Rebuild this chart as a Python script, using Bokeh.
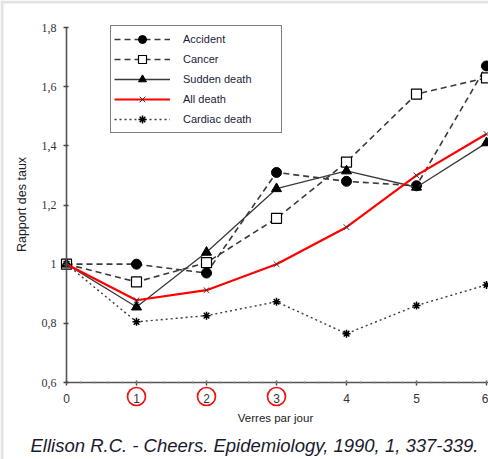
import math
from bokeh.plotting import figure
from bokeh.models import (Range1d, Legend, LegendItem, Label, BoxAnnotation,
                          FixedTicker)
from bokeh.embed import file_html
from bokeh.resources import INLINE

# ---- data ----
glasses = [0, 1, 2, 3, 4, 5, 6]
accident = [1.0, 1.0, 0.97, 1.31, 1.28, 1.265, 1.67]
cancer = [1.0, 0.94, 1.005, 1.155, 1.345, 1.575, 1.63]
sudden = [1.0, 0.855, 1.04, 1.255, 1.315, 1.26, 1.41]
all_death = [1.0, 0.878, 0.912, 1.0, 1.125, 1.30, 1.44]
cardiac = [1.0, 0.805, 0.826, 0.873, 0.765, 0.86, 0.93]
y_ticks = [0.6, 0.8, 1.0, 1.2, 1.4, 1.6, 1.8]
y_tick_labels = ["0,6", "0,8", "1", "1,2", "1,4", "1,6", "1,8"]
circled = [1, 2, 3]
series_names = ["Accident", "Cancer", "Sudden death", "All death", "Cardiac death"]
caption = "Ellison R.C. - Cheers. Epidemiology, 1990, 1, 337-339."
x_title = "Verres par jour"
y_title = "Rapport des taux"

# ---- geometry (pixels of the 488x459 canvas) ----
W, H = 488, 459
X0_PX, PX_PER_X = 66, 70.0          # x = 0 at pixel 66
Y06_PX, PX_PER_Y = 382, 355 / 1.2   # y = 0.6 at pixel 382

def dx(px):
    return (px - X0_PX) / PX_PER_X

def dy(py):
    return 0.6 + (Y06_PX - py) / PX_PER_Y

p = figure(width=W, height=H, output_backend="svg", toolbar_location=None,
           x_range=Range1d(dx(0), dx(W)), y_range=Range1d(dy(H), dy(0)),
           min_border=0, min_border_left=0, min_border_right=0,
           min_border_top=0, min_border_bottom=0)
p.outline_line_color = None
p.grid.visible = False
p.background_fill_color = "white"
p.border_fill_color = "white"

# light grey screenshot edge
p.add_layout(BoxAnnotation(right=dx(3), fill_color="#e3e3e3", fill_alpha=1,
                           line_color=None, level="underlay"))
p.add_layout(BoxAnnotation(bottom=dy(3), fill_color="#e3e3e3", fill_alpha=1,
                           line_color=None, level="underlay"))

# axes placed inside the frame
xa = p.xaxis[0]
ya = p.yaxis[0]
xa.fixed_location = 0.6
ya.fixed_location = 0
xa.bounds = (0, dx(W))
ya.bounds = (0.6, 1.8)
xa.ticker = FixedTicker(ticks=glasses, minor_ticks=[i / 5 for i in range(0, 31)])
ya.ticker = FixedTicker(ticks=y_ticks)
ya.major_label_overrides = {t: l for t, l in zip(y_ticks, y_tick_labels)}
for ax in (xa, ya):
    ax.axis_line_color = "#555555"
    ax.axis_line_width = 1.6
    ax.major_tick_line_color = "#444444"
    ax.major_tick_line_width = 1.4
    ax.major_tick_in = 2
    ax.major_tick_out = 3
    ax.major_label_text_font_size = "12px"
    ax.major_label_text_color = "#333333"
xa.major_label_text_font = "Liberation Sans"
ya.major_label_text_font = "Liberation Serif"
xa.minor_tick_in = 1
xa.minor_tick_out = 1
xa.minor_tick_line_color = "#888888"
ya.minor_tick_line_color = None
xa.major_label_standoff = 8
ya.major_label_standoff = 7

# series
dark = "#3a3a3a"
r1l = p.line(glasses, accident, line_color=dark, line_width=1.6, line_dash="6 4")
r1m = p.scatter(glasses, accident, marker="circle", size=10, fill_color="black",
                line_color="black")
r2l = p.line(glasses, cancer, line_color=dark, line_width=1.6, line_dash="6 4")
r2m = p.scatter(glasses, cancer, marker="square", size=10, fill_color="white",
                line_color="black", line_width=1.2)
r3l = p.line(glasses, sudden, line_color=dark, line_width=1.3)
r3m = p.scatter(glasses, sudden, marker="triangle", size=10, fill_color="black",
                line_color="black")
r5l = p.line(glasses, cardiac, line_color=dark, line_width=1.4, line_dash="2 3")
r5m = p.scatter(glasses, cardiac, marker="asterisk", size=8, line_color="black",
                line_width=1.5)
r4l = p.line(glasses, all_death, line_color="#ff0000", line_width=2.2)
r4m = p.scatter(glasses, all_death, marker="x", size=8, line_color="#333333",
                line_width=1)

legend = Legend(items=[
    LegendItem(label=series_names[0], renderers=[r1l, r1m]),
    LegendItem(label=series_names[1], renderers=[r2l, r2m]),
    LegendItem(label=series_names[2], renderers=[r3l, r3m]),
    LegendItem(label=series_names[3], renderers=[r4l, r4m]),
    LegendItem(label=series_names[4], renderers=[r5l, r5m]),
], location=(110, H - 133))
legend.padding = 3
legend.margin = 0
legend.spacing = 0
legend.glyph_width = 56
legend.glyph_height = 20
legend.label_height = 20
legend.label_width = 95
legend.label_standoff = 13
legend.label_text_font = "Liberation Sans"
legend.label_text_font_size = "11px"
legend.label_text_color = "#1c1c3a"
legend.border_line_color = "black"
legend.border_line_width = 1.4
legend.background_fill_alpha = 1
p.add_layout(legend, "center")

# red circles round tick labels 1, 2, 3
p.scatter(circled, [dy(396)] * len(circled), marker="circle", size=18,
          fill_alpha=0, line_color="#ee1111", line_width=1.7)

# titles and caption
p.add_layout(Label(x=dx(21), y=dy(204), text=y_title, angle=math.pi / 2,
                   text_align="center", text_baseline="middle",
                   text_font="Liberation Sans", text_font_size="12.5px",
                   text_color="#222222"))
p.add_layout(Label(x=dx(275), y=dy(417), text=x_title,
                   text_align="center", text_baseline="middle",
                   text_font="Liberation Sans", text_font_size="11.5px",
                   text_color="#222222"))
p.add_layout(Label(x=dx(254), y=dy(445), text=caption,
                   text_align="center", text_baseline="middle",
                   text_font="Liberation Sans", text_font_size="18.5px",
                   text_font_style="italic", text_color="#1a1a2e"))

open("out.html", "w").write(file_html(p, INLINE))
